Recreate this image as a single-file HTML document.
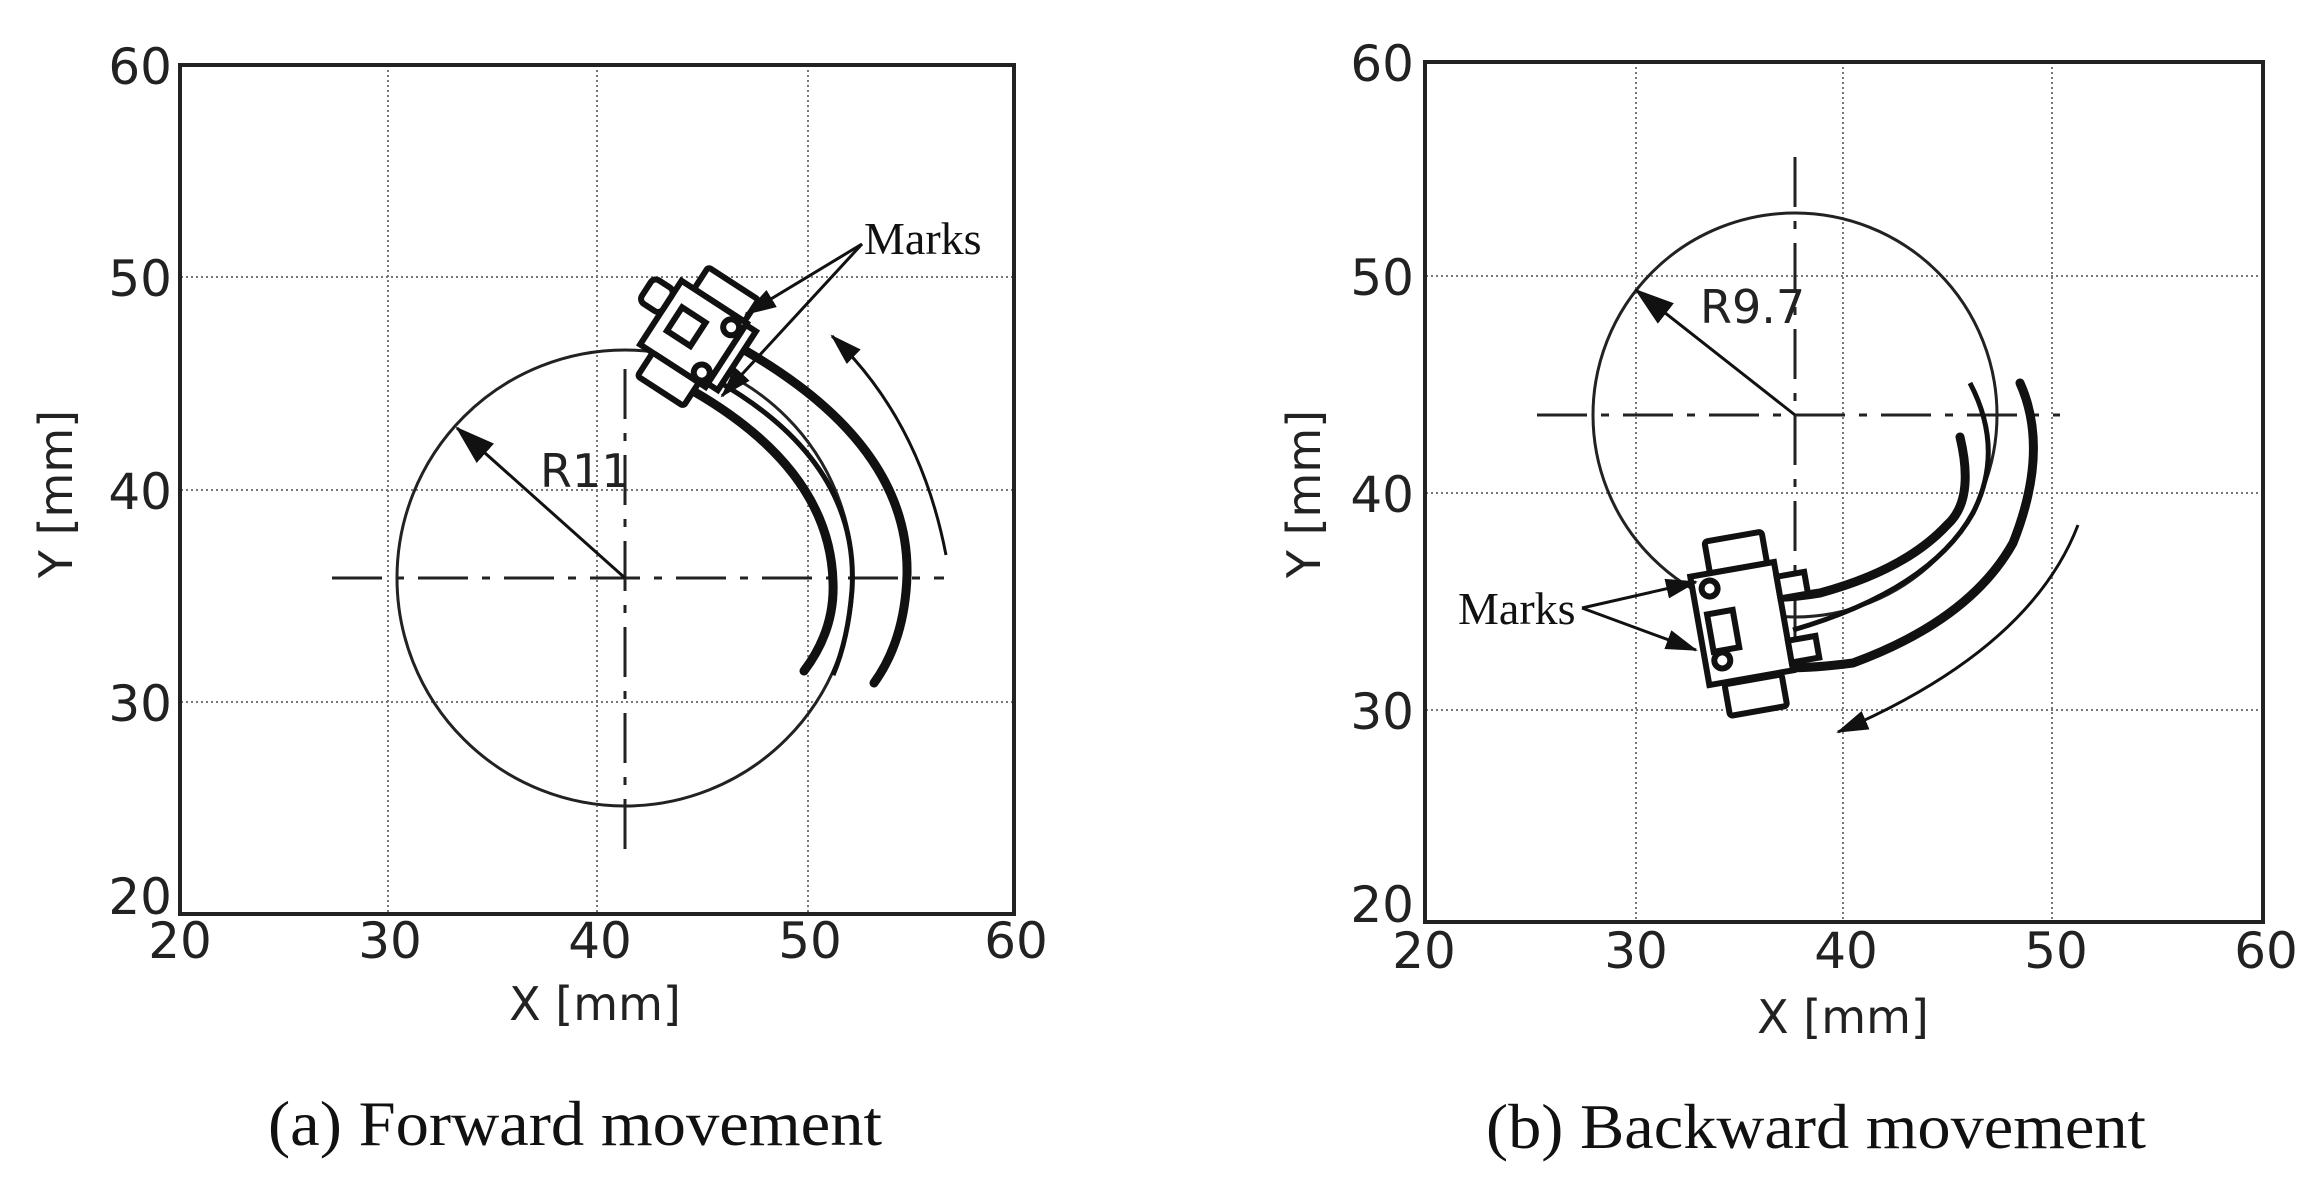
<!DOCTYPE html>
<html><head><meta charset="utf-8"><style>
html,body{margin:0;padding:0;background:#fff;}
svg{display:block;}
.t{font-family:"DejaVu Sans","Liberation Sans",sans-serif;fill:#222;}
.s{font-family:"Liberation Serif",serif;fill:#111;}
</style></head><body>
<svg width="2312" height="1184" viewBox="0 0 2312 1184" xmlns="http://www.w3.org/2000/svg">
<defs>
<marker id="ab" markerWidth="40" markerHeight="26" refX="38" refY="13" orient="auto" markerUnits="userSpaceOnUse">
<path d="M0,0 L40,13 L0,26 Z" fill="#111"/></marker>
<marker id="am" markerWidth="32" markerHeight="20" refX="30" refY="10" orient="auto" markerUnits="userSpaceOnUse">
<path d="M0,0 L32,10 L0,20 Z" fill="#111"/></marker>
</defs>

<!-- LEFT PLOT -->
<g stroke="#777" stroke-width="2" stroke-dasharray="2,3" fill="none">
<line x1="388" y1="65" x2="388" y2="914"/>
<line x1="597" y1="65" x2="597" y2="914"/>
<line x1="808" y1="65" x2="808" y2="914"/>
<line x1="181" y1="277" x2="1014" y2="277"/>
<line x1="181" y1="490" x2="1014" y2="490"/>
<line x1="181" y1="702" x2="1014" y2="702"/>
</g>
<rect x="180" y="65" width="834" height="849" fill="none" stroke="#222" stroke-width="4"/>
<g class="t" font-size="50" text-anchor="end">
<text x="172" y="84">60</text><text x="172" y="296">50</text><text x="172" y="509">40</text><text x="172" y="721">30</text><text x="172" y="914">20</text>
</g>
<g class="t" font-size="50" text-anchor="middle">
<text x="180" y="958">20</text><text x="390" y="958">30</text><text x="600" y="958">40</text><text x="810" y="958">50</text><text x="1016" y="958">60</text>
</g>
<text class="t" font-size="46" x="595" y="1020" text-anchor="middle">X [mm]</text>
<text class="t" font-size="46" transform="translate(72,494) rotate(-90)" text-anchor="middle">Y [mm]</text>

<circle cx="625" cy="578" r="228" fill="none" stroke="#222" stroke-width="3"/>
<line x1="332" y1="578" x2="944" y2="578" stroke="#222" stroke-width="3" stroke-dasharray="50,14,8,14"/>
<line x1="625" y1="369" x2="625" y2="858" stroke="#222" stroke-width="3" stroke-dasharray="50,14,8,14"/>
<line x1="625" y1="578" x2="457" y2="428" stroke="#111" stroke-width="3" marker-end="url(#ab)"/>
<text class="t" font-size="46" x="540" y="487">R11</text>

<path d="M693,391 Q830,470 833,582 Q835,630 804,671" fill="none" stroke="#111" stroke-width="9" stroke-linecap="round"/>
<path d="M712,378 Q860,460 852,590 Q848,640 833,675" fill="none" stroke="#111" stroke-width="5"/>
<path d="M730,342 Q910,440 907,575 Q905,640 874,683" fill="none" stroke="#111" stroke-width="9" stroke-linecap="round"/>
<path d="M946,555 Q920,420 832,336" fill="none" stroke="#111" stroke-width="3" marker-end="url(#am)"/>

<g transform="translate(688,335) rotate(33)" fill="#fff" stroke="#111" stroke-width="6">
<rect x="-20" y="-68" width="60" height="26" rx="3"/>
<rect x="-35" y="-42" width="78" height="76"/>
<rect x="-20" y="-20" width="28" height="28"/>
<rect x="-60" y="-30" width="25" height="28" rx="6"/>
<rect x="-20" y="34" width="55" height="28" rx="3"/>
<circle cx="32" cy="-30" r="8"/>
<circle cx="32" cy="24" r="8"/>
<rect x="43" y="-40" width="12" height="70"/>
</g>

<text class="s" font-size="46" x="864" y="254">Marks</text>
<line x1="862" y1="244" x2="746" y2="314" stroke="#111" stroke-width="3" marker-end="url(#am)"/>
<line x1="862" y1="244" x2="722" y2="396" stroke="#111" stroke-width="3" marker-end="url(#am)"/>

<text class="s" font-size="64" x="268" y="1145" textLength="614" lengthAdjust="spacingAndGlyphs">(a) Forward  movement</text>

<!-- RIGHT PLOT -->
<g stroke="#777" stroke-width="2" stroke-dasharray="2,3" fill="none">
<line x1="1636" y1="62" x2="1636" y2="922"/>
<line x1="1843" y1="62" x2="1843" y2="922"/>
<line x1="2052" y1="62" x2="2052" y2="922"/>
<line x1="1426" y1="276" x2="2263" y2="276"/>
<line x1="1426" y1="493" x2="2263" y2="493"/>
<line x1="1426" y1="710" x2="2263" y2="710"/>
</g>
<rect x="1425" y="62" width="838" height="860" fill="none" stroke="#222" stroke-width="4"/>
<g class="t" font-size="50" text-anchor="end">
<text x="1414" y="81">60</text><text x="1414" y="295">50</text><text x="1414" y="512">40</text><text x="1414" y="729">30</text><text x="1414" y="922">20</text>
</g>
<g class="t" font-size="50" text-anchor="middle">
<text x="1424" y="968">20</text><text x="1636" y="968">30</text><text x="1846" y="968">40</text><text x="2056" y="968">50</text><text x="2266" y="968">60</text>
</g>
<text class="t" font-size="46" x="1843" y="1033" text-anchor="middle">X [mm]</text>
<text class="t" font-size="46" transform="translate(1320,494) rotate(-90)" text-anchor="middle">Y [mm]</text>

<circle cx="1795" cy="415" r="202" fill="none" stroke="#222" stroke-width="3"/>
<line x1="1537" y1="415" x2="2060" y2="415" stroke="#222" stroke-width="3" stroke-dasharray="50,14,8,14"/>
<line x1="1795" y1="157" x2="1795" y2="672" stroke="#222" stroke-width="3" stroke-dasharray="50,14,8,14"/>
<line x1="1795" y1="415" x2="1636" y2="290" stroke="#111" stroke-width="3" marker-end="url(#ab)"/>
<text class="t" font-size="46" x="1700" y="323">R9.7</text>

<path d="M1960,437 Q1975,500 1947,525 Q1905,570 1820,593 Q1790,598 1760,598" fill="none" stroke="#111" stroke-width="9" stroke-linecap="round"/>
<path d="M1970,383 Q2005,450 1973,513 Q1930,590 1793,630" fill="none" stroke="#111" stroke-width="5"/>
<path d="M2020,383 Q2050,450 2013,543 Q1970,620 1853,663 Q1800,670 1760,667" fill="none" stroke="#111" stroke-width="9" stroke-linecap="round"/>
<path d="M2078,525 Q2030,650 1838,732" fill="none" stroke="#111" stroke-width="3" marker-end="url(#am)"/>

<g transform="translate(1745,628) rotate(-10)" fill="#fff" stroke="#111" stroke-width="6">
<rect x="-25" y="-92" width="58" height="32" rx="3"/>
<rect x="-45" y="-60" width="85" height="110"/>
<rect x="-35" y="-20" width="26" height="38"/>
<rect x="40" y="-45" width="28" height="22"/>
<rect x="40" y="20" width="28" height="22"/>
<rect x="-30" y="52" width="58" height="32" rx="3"/>
<circle cx="-28" cy="-45" r="8"/>
<circle cx="-28" cy="28" r="8"/>
</g>

<text class="s" font-size="46" x="1458" y="624">Marks</text>
<line x1="1582" y1="608" x2="1696" y2="582" stroke="#111" stroke-width="3" marker-end="url(#am)"/>
<line x1="1582" y1="608" x2="1696" y2="650" stroke="#111" stroke-width="3" marker-end="url(#am)"/>

<text class="s" font-size="64" x="1486" y="1148" textLength="660" lengthAdjust="spacingAndGlyphs">(b) Backward  movement</text>
</svg>
</body></html>
